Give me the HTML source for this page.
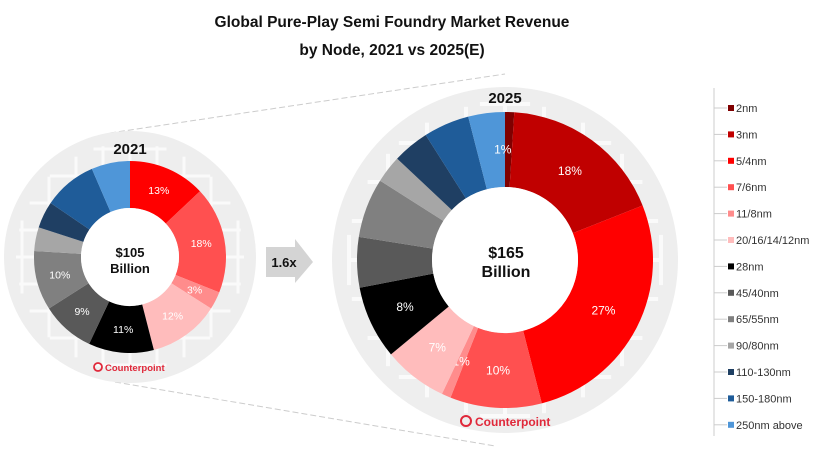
<!DOCTYPE html>
<html><head><meta charset="utf-8"><style>
html,body{margin:0;padding:0;background:#fff;width:814px;height:451px;overflow:hidden;font-family:"Liberation Sans",Arial,sans-serif}
svg{display:block}
</style></head><body>
<svg id="chart" width="814" height="451" viewBox="0 0 814 451" xmlns="http://www.w3.org/2000/svg" font-family="Liberation Sans, Arial, sans-serif">
<text x="392" y="27" text-anchor="middle" font-size="15.5" font-weight="bold" fill="#111">Global Pure-Play Semi Foundry Market Revenue</text>
<text x="392" y="55" text-anchor="middle" font-size="15.5" font-weight="bold" fill="#111">by Node, 2021 vs 2025(E)</text>
<line x1="110" y1="133" x2="505" y2="74" stroke="#ccc" stroke-dasharray="6,3" stroke-width="1"/>
<line x1="115" y1="382" x2="495" y2="446" stroke="#ccc" stroke-dasharray="6,3" stroke-width="1"/>
<circle cx="130" cy="257" r="126" fill="#eeeeee"/>
<circle cx="505" cy="260" r="173" fill="#eeeeee"/>
<g id="grid1" stroke="#fafafa" stroke-width="3"></g>
<g id="grid2" stroke="#fafafa" stroke-width="4"></g>
<g id="d2021"></g><g id="d2025"></g>
<circle cx="130" cy="257" r="49" fill="#fff"/>
<circle cx="505" cy="260" r="73" fill="#fff"/>
<text x="130" y="154" text-anchor="middle" font-size="15" font-weight="bold" fill="#111">2021</text>
<text x="505" y="103" text-anchor="middle" font-size="15" font-weight="bold" fill="#111">2025</text>
<text x="130" y="257" text-anchor="middle" font-size="13" font-weight="bold" fill="#111">$105</text>
<text x="130" y="273" text-anchor="middle" font-size="13" font-weight="bold" fill="#111">Billion</text>
<text x="506" y="258" text-anchor="middle" font-size="16" font-weight="bold" fill="#111">$165</text>
<text x="506" y="277" text-anchor="middle" font-size="16" font-weight="bold" fill="#111">Billion</text>
<g><polygon points="266,247 295,247 295,239 313,262 295,283 295,277 266,277" fill="#d4d4d4"/>
<text x="284" y="267" text-anchor="middle" font-size="13" font-weight="bold" fill="#111">1.6x</text></g>
<g><circle cx="98" cy="367" r="4" fill="none" stroke="#e0283a" stroke-width="1.8"/><text x="105" y="371" font-size="9.5" font-weight="bold" fill="#e0283a">Counterpoint</text></g>
<g><circle cx="466" cy="421" r="5" fill="none" stroke="#e0283a" stroke-width="2"/><text x="475" y="426" font-size="12" font-weight="bold" fill="#e0283a">Counterpoint</text></g>
<line x1="714" y1="88" x2="714" y2="436" stroke="#ccc"/>
<g id="legend"></g>
</svg>
<script>
const categories=["2nm","3nm","5/4nm","7/6nm","11/8nm","20/16/14/12nm","28nm","45/40nm","65/55nm","90/80nm","110-130nm","150-180nm","250nm above"];
const colors=["#7f0000","#c00000","#ff0000","#ff5050","#ff8c8c","#ffbcbc","#000000","#595959","#808080","#a6a6a6","#1f3f63","#1f5c99","#4f96d8"];
const values2021=[0,0,13,18,3,12,11,9,10,4,4.5,9,6.5];
const labels2021=["","","13%","18%","3%","12%","11%","9%","10%","","","",""];
const values2025=[1,18,27,10,1,7,8,5.5,6.5,3,4,5,4];
const labels2025=["","18%","27%","10%","1%","7%","8%","","","","","","1%"];
const NS="http://www.w3.org/2000/svg";
function grid(id,cx,cy,step,n,rad){
  const g=document.getElementById(id);
  for(let k=-n;k<=n;k++){
    const d=k*step; if(Math.abs(d)>=rad)continue;
    const h=Math.sqrt(rad*rad-d*d);
    const a=document.createElementNS(NS,"line");
    a.setAttribute("x1",cx+d);a.setAttribute("x2",cx+d);a.setAttribute("y1",cy-h);a.setAttribute("y2",cy+h);
    g.appendChild(a);
    const b=document.createElementNS(NS,"line");
    b.setAttribute("y1",cy+d);b.setAttribute("y2",cy+d);b.setAttribute("x1",cx-h);b.setAttribute("x2",cx+h);
    g.appendChild(b);
  }
}
grid("grid1",130,257,27,5,114);
grid("grid2",505,260,39,5,158);
function pt(cx,cy,r,a){return [cx+r*Math.sin(a),cy-r*Math.cos(a)];}
function donut(gid,vals,labs,cx,cy,R,r,fs,name){
  const g=document.getElementById(gid);
  const tot=vals.reduce((a,b)=>a+b,0);let acc=0;
  vals.forEach((v,i)=>{
    const a0=acc/tot*2*Math.PI;acc+=v;const a1=acc/tot*2*Math.PI;
    if(v<=0)return;
    const lg=(a1-a0)>Math.PI?1:0;
    const p1=pt(cx,cy,R,a0),p2=pt(cx,cy,R,a1),p3=pt(cx,cy,r,a1),p4=pt(cx,cy,r,a0);
    const p=document.createElementNS(NS,"path");
    p.setAttribute("d",`M${p1}A${R},${R} 0 ${lg} 1 ${p2}L${p3}A${r},${r} 0 ${lg} 0 ${p4}Z`);
    p.setAttribute("fill",colors[i]);
    
    
    g.appendChild(p);
    if(labs[i]){
      let am=(a0+a1)/2; if(i===12&&gid==="d2025")am=a1-0.02;
      const lp=pt(cx,cy,(R+r)/2,am);
      const t=document.createElementNS(NS,"text");
      t.setAttribute("x",lp[0]);t.setAttribute("y",lp[1]+fs*0.35);
      t.setAttribute("text-anchor","middle");t.setAttribute("font-size",fs);t.setAttribute("fill","#fff");
      t.textContent=labs[i];
      
      
      g.appendChild(t);
    }
  });
}
donut("d2021",values2021,labels2021,130,257,96,49,10.5,"donut-2021");
donut("d2025",values2025,labels2025,505,260,148,73,12,"donut-2025");
const lg=document.getElementById("legend");
categories.forEach((c,i)=>{
  const y=108+i*26.4;
  const e=document.createElementNS(NS,"g");
  
  
  e.innerHTML=`<line x1="714" y1="${y}" x2="727" y2="${y}" stroke="#ccc"/><rect x="728" y="${y-3}" width="6" height="6" fill="${colors[i]}"/><text x="736" y="${y+4}" font-size="11" fill="#333">${c}</text>`;
  lg.appendChild(e);
});
</script>
</body></html>
